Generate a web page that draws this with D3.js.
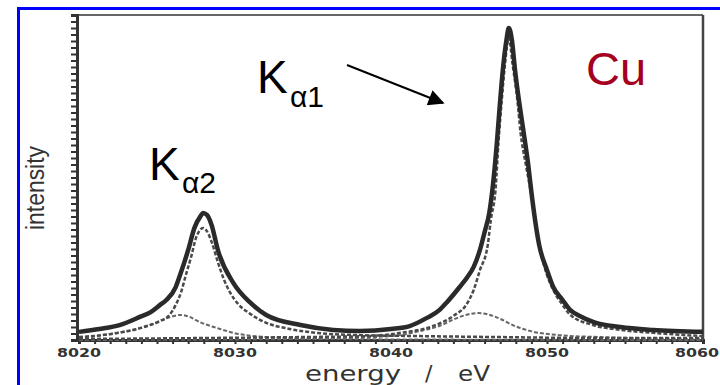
<!DOCTYPE html>
<html>
<head>
<meta charset="utf-8">
<script src="https://cdn.jsdelivr.net/npm/d3@7"></script>
<style>
  body { margin: 0; background: #fff; }
  svg { display: block; }
</style>
</head>
<body>
<div id="chart"></div>
<script>
// energy (eV) / intensity (arb. units, 0-100)
const totalE = [8020.0, 8021.3, 8022.6, 8023.9, 8024.6, 8025.2, 8025.6, 8026.2, 8026.5, 8027.0, 8027.4, 8027.8, 8027.95, 8028.2, 8028.5, 8028.9, 8029.9, 8031.0, 8032.0, 8034.2, 8036.3, 8038.0, 8040.0, 8041.2, 8042.3, 8043.1, 8043.6, 8044.4, 8044.9, 8045.3, 8045.7, 8046.0, 8046.3, 8046.5, 8046.8, 8047.0, 8047.2, 8047.4, 8047.55, 8047.75, 8047.95, 8048.2, 8048.5, 8048.8, 8049.0, 8049.5, 8050.0, 8050.4, 8051.0, 8051.5, 8052.1, 8053.0, 8054.7, 8056.8, 8060.0];
const totalI = [2.5, 3.4, 4.6, 7.1, 8.6, 10.8, 12.3, 16.3, 20.3, 27.7, 34.5, 38.2, 39.1, 38.5, 35.4, 27.7, 17.5, 11.4, 7.7, 4.6, 3.1, 2.8, 3.4, 4.3, 6.8, 9.2, 11.7, 16.3, 19.4, 22.5, 27.7, 33.2, 39.1, 46.2, 61.5, 73.8, 84.6, 92.3, 96.0, 92.3, 83.1, 73.8, 64.0, 53.8, 45.5, 29.2, 21.5, 16.3, 12.3, 9.2, 7.4, 5.5, 4.0, 3.1, 2.5];

const ka1E = [8020.0, 8027.8, 8034.2, 8038.5, 8040.6, 8042.7, 8044.0, 8044.9, 8045.3, 8045.7, 8046.2, 8046.4, 8046.7, 8046.9, 8047.1, 8047.3, 8047.55, 8047.8, 8048.1, 8048.3, 8048.65, 8049.0, 8049.5, 8049.9, 8050.4, 8051.0, 8051.5, 8052.95, 8054.7, 8056.8, 8060.0];
const ka1I = [0.3, 0.6, 0.9, 1.2, 2.2, 4.3, 7.4, 11.4, 15.4, 21.5, 29.2, 36.9, 46.2, 61.5, 73.8, 84.6, 92.9, 84.6, 73.8, 64.0, 53.8, 44.6, 29.2, 21.5, 15.4, 10.8, 7.7, 4.6, 3.1, 2.2, 1.2];

const ka2E = [8020.0, 8022.0, 8023.5, 8024.55, 8025.2, 8025.8, 8026.2, 8026.55, 8026.85, 8027.2, 8027.5, 8027.75, 8027.95, 8028.2, 8028.5, 8028.9, 8029.3, 8029.7, 8030.2, 8030.9, 8031.9, 8033.5, 8035.2, 8038.0, 8041.9, 8047.0, 8053.4, 8060.0];
const ka2I = [0.9, 1.8, 3.1, 4.6, 5.8, 7.7, 10.8, 14.8, 20.0, 25.8, 31.4, 33.8, 34.5, 33.5, 30.2, 24.0, 18.5, 14.5, 11.1, 8.3, 5.5, 3.4, 2.2, 1.5, 1.2, 0.9, 0.6, 0.6];

const sat2E = [8020.0, 8022.4, 8024.55, 8025.5, 8026.5, 8027.1, 8027.75, 8028.85, 8029.9, 8032.05, 8036.3, 8041.9, 8060.0];
const sat2I = [0.6, 2.2, 4.6, 6.5, 7.7, 7.1, 5.5, 3.7, 2.2, 0.9, 0.3, 0.15, 0.0];

const sat1E = [8020.0, 8034.2, 8040.0, 8041.9, 8043.1, 8044.1, 8044.8, 8045.6, 8046.35, 8047.0, 8047.8, 8048.9, 8050.8, 8053.4, 8060.0];
const sat1I = [0.0, 0.3, 1.2, 2.8, 4.3, 6.5, 7.7, 8.3, 7.7, 6.5, 4.6, 2.8, 1.5, 0.9, 0.3];

const xTickValues = [8020, 8030, 8040, 8050, 8060];

const width = 720, height = 385;

const svg = d3.select("#chart")
  .append("svg")
    .attr("width", width)
    .attr("height", height);

// blue frame of the slide
svg.append("rect")
  .attr("x", 18.5).attr("y", 8.5)
  .attr("width", 760).attr("height", 420)
  .attr("fill", "none")
  .attr("stroke", "#0000ff")
  .attr("stroke-width", 3);

const x = d3.scaleLinear().domain([8020, 8060]).range([79, 703]);
const y = d3.scaleLinear().domain([0, 100]).range([340, 15]);

// plot frame (top & right)
svg.append("line")
  .attr("x1", 77).attr("x2", 703).attr("y1", 15).attr("y2", 15)
  .attr("stroke", "#666").attr("stroke-width", 2);
svg.append("line")
  .attr("x1", 703).attr("x2", 703).attr("y1", 15).attr("y2", 340)
  .attr("stroke", "#444").attr("stroke-width", 2.5);

// bottom axis
const xAxis = svg.append("g")
  .attr("transform", "translate(0,340)")
  .call(d3.axisBottom(x).ticks(40).tickSize(4).tickFormat(""));
xAxis.select(".domain").attr("stroke", "#333").attr("stroke-width", 3);
xAxis.selectAll(".tick line").attr("stroke", "#333").attr("stroke-width", 2);

svg.append("g")
  .selectAll("text")
  .data(xTickValues)
  .enter().append("text")
    .attr("x", d => d === 8060 ? 719 : x(d))
    .attr("y", 357)
    .attr("text-anchor", d => d === 8060 ? "end" : "middle")
    .attr("textLength", 44)
    .attr("lengthAdjust", "spacingAndGlyphs")
    .style("font-family", "DejaVu Sans")
    .style("font-weight", "bold")
    .style("font-size", "13px")
    .style("fill", "#333")
    .text(d => d);

// left axis, ticks only
const yAxis = svg.append("g")
  .attr("transform", "translate(77,0)")
  .call(d3.axisLeft(y).ticks(40).tickSize(6).tickFormat(""));
yAxis.select(".domain").attr("stroke", "#333").attr("stroke-width", 3);
yAxis.selectAll(".tick line").attr("stroke", "#333").attr("stroke-width", 2);

// axis titles
svg.append("text")
  .attr("transform", "translate(44,188) rotate(-90)")
  .attr("text-anchor", "middle")
  .attr("textLength", 84)
  .attr("lengthAdjust", "spacingAndGlyphs")
  .style("font-family", "Liberation Sans")
  .style("font-size", "25px")
  .style("fill", "#333")
  .text("intensity");

const xTitle = svg.append("g")
  .style("font-family", "DejaVu Sans")
  .style("font-size", "22px")
  .style("fill", "#333");
xTitle.append("text").attr("x", 305).attr("y", 381)
  .attr("textLength", 96).attr("lengthAdjust", "spacingAndGlyphs").text("energy");
xTitle.append("text").attr("x", 425).attr("y", 381).text("/");
xTitle.append("text").attr("x", 458).attr("y", 381)
  .attr("textLength", 32).attr("lengthAdjust", "spacingAndGlyphs").text("eV");

// curves
const line = d3.line()
  .x(d => x(d[0]))
  .y(d => y(d[1]))
  .curve(d3.curveMonotoneX);

const zip = (es, is) => es.map((e, i) => [e, is[i]]);

svg.append("path")
  .datum(zip(sat2E, sat2I))
  .attr("d", line)
  .attr("fill", "none")
  .attr("stroke", "#666")
  .attr("stroke-width", 2)
  .attr("stroke-dasharray", "4,2");

svg.append("path")
  .datum(zip(sat1E, sat1I))
  .attr("d", line)
  .attr("fill", "none")
  .attr("stroke", "#666")
  .attr("stroke-width", 2)
  .attr("stroke-dasharray", "4,2");

svg.append("path")
  .datum(zip(ka2E, ka2I))
  .attr("d", line)
  .attr("fill", "none")
  .attr("stroke", "#4a4a4a")
  .attr("stroke-width", 2.5)
  .attr("stroke-dasharray", "4,2");

svg.append("path")
  .datum(zip(ka1E, ka1I))
  .attr("d", line)
  .attr("fill", "none")
  .attr("stroke", "#4a4a4a")
  .attr("stroke-width", 2.5)
  .attr("stroke-dasharray", "4,2");

svg.append("path")
  .datum(zip(totalE, totalI))
  .attr("d", line)
  .attr("fill", "none")
  .attr("stroke", "#2a2a2a")
  .attr("stroke-width", 4.5);

// annotations
const ann = svg.append("g")
  .style("font-family", "Liberation Sans")
  .style("fill", "#000");
ann.append("text").attr("x", 257).attr("y", 93).style("font-size", "46px").text("K");
ann.append("text").attr("x", 290).attr("y", 107).style("font-size", "30px").text("α1");
ann.append("text").attr("x", 149).attr("y", 180).style("font-size", "46px").text("K");
ann.append("text").attr("x", 182).attr("y", 193).style("font-size", "30px").text("α2");

svg.append("defs").append("marker")
  .attr("id", "head")
  .attr("viewBox", "0 0 10 10")
  .attr("refX", 9).attr("refY", 5)
  .attr("markerWidth", 22).attr("markerHeight", 16)
  .attr("markerUnits", "userSpaceOnUse")
  .attr("orient", "auto")
  .append("path")
    .attr("d", "M0,0 L10,5 L0,10 Z")
    .attr("fill", "#000");

svg.append("path")
  .attr("d", "M347,65 L443,103")
  .attr("stroke", "#000")
  .attr("stroke-width", 2)
  .attr("marker-end", "url(#head)");

svg.append("text")
  .attr("x", 586).attr("y", 85)
  .style("font-family", "Liberation Sans")
  .style("font-size", "47px")
  .style("fill", "#a50021")
  .text("Cu");
</script>
</body>
</html>
